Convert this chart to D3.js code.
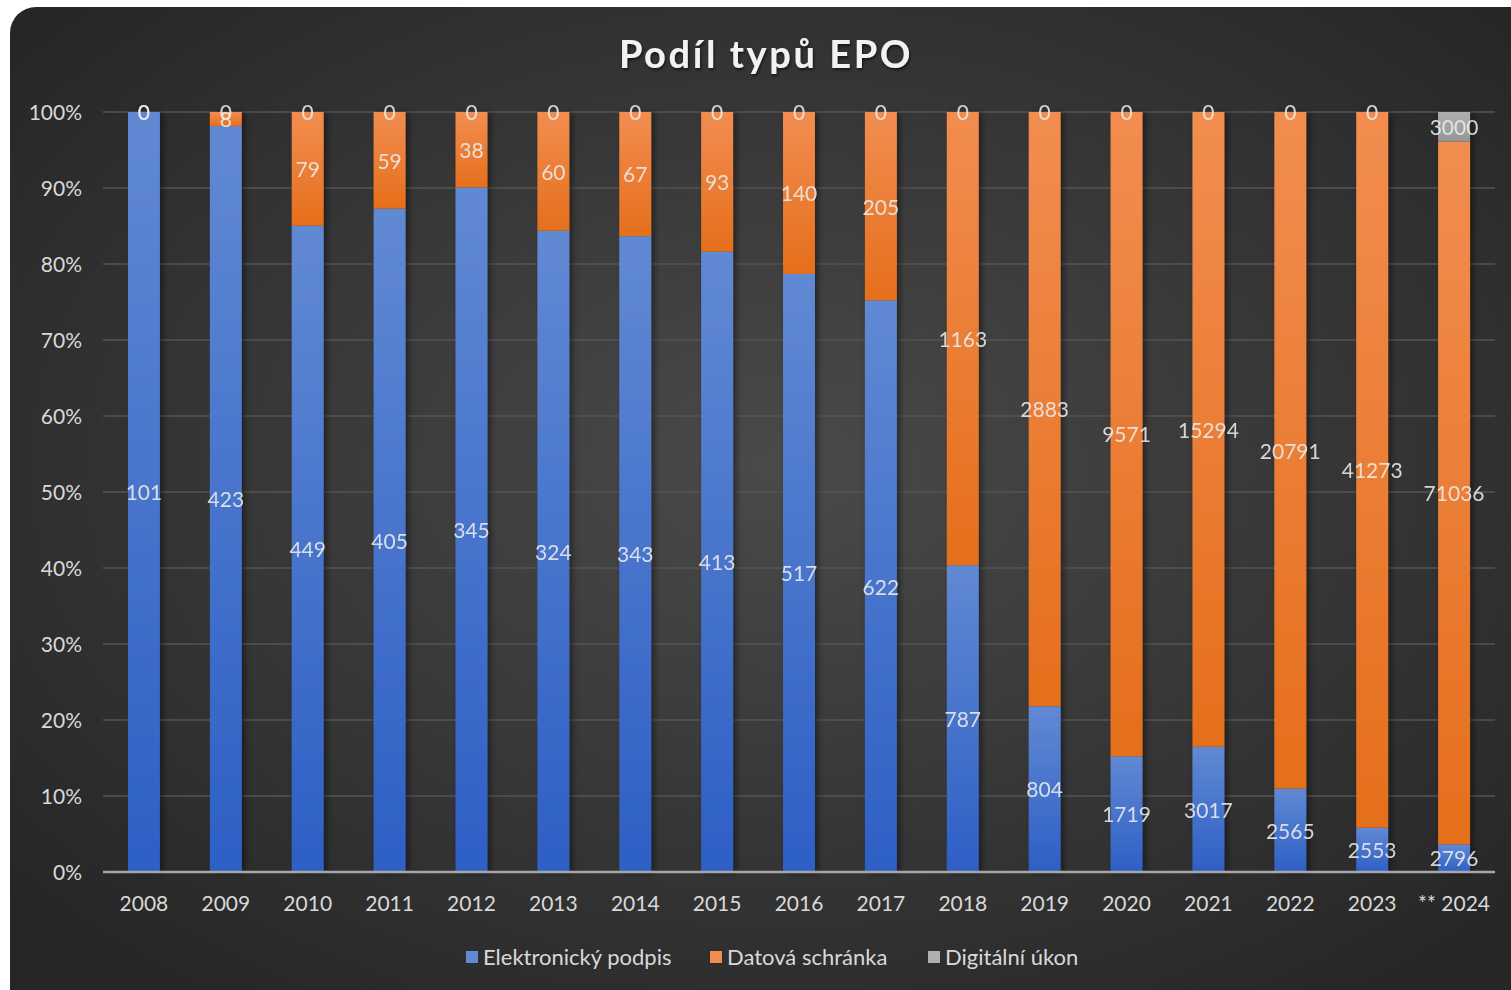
<!DOCTYPE html>
<html lang="cs">
<head>
  <meta charset="UTF-8">
  <title>Podíl typů EPO</title>
  <script src="https://cdn.jsdelivr.net/npm/d3@7"></script>
  <style>
    body { margin: 0; background: #fff; }
    text { font-family: Lato, "Open Sans", sans-serif; }
    .tick text { fill: #d9d9d9; font-size: 21px; }
    .label { fill: #ececec; font-size: 21px; opacity: 0.88; }
    .title { fill: #f2f2f2; font-size: 38px; font-weight: bold; letter-spacing: 2.6px; }
    .legend text { fill: #d9d9d9; font-size: 22px; }
  </style>
</head>
<body>
  <svg width="1511" height="990"></svg>
  <script>
    // data
    const years = ['2008', '2009', '2010', '2011', '2012', '2013', '2014', '2015', '2016',
      '2017', '2018', '2019', '2020', '2021', '2022', '2023', '** 2024'];
    const podpis = [101, 423, 449, 405, 345, 324, 343, 413, 517, 622, 787, 804, 1719, 3017, 2565, 2553, 2796];
    const schranka = [0, 8, 79, 59, 38, 60, 67, 93, 140, 205, 1163, 2883, 9571, 15294, 20791, 41273, 71036];
    const ukon = [0, 0, 0, 0, 0, 0, 0, 0, 0, 0, 0, 0, 0, 0, 0, 0, 3000];
    const seriesNames = ['Elektronický podpis', 'Datová schránka', 'Digitální úkon'];
    const yTicks = [0, 0.1, 0.2, 0.3, 0.4, 0.5, 0.6, 0.7, 0.8, 0.9, 1];

    const svg = d3.select('svg');
    const defs = svg.append('defs');

    const bg = defs.append('radialGradient').attr('id', 'bg')
      .attr('cx', '50%').attr('cy', '45%').attr('r', '65%');
    bg.append('stop').attr('offset', '0%').attr('stop-color', '#4a4a4a');
    bg.append('stop').attr('offset', '100%').attr('stop-color', '#262626');

    const cols = [['#6189d3', '#2d5fc5'], ['#f28d50', '#e56f1c'], ['#b0b0b0', '#959595']];
    cols.forEach((c, i) => {
      const g = defs.append('linearGradient').attr('id', 'g' + i)
        .attr('x1', 0).attr('y1', 0).attr('x2', 0).attr('y2', 1);
      g.append('stop').attr('offset', '0%').attr('stop-color', c[0]);
      g.append('stop').attr('offset', '100%').attr('stop-color', c[1]);
    });

    const shadow = defs.append('filter').attr('id', 'sh')
      .attr('x', '-30%').attr('y', '-5%').attr('width', '160%').attr('height', '110%');
    shadow.append('feDropShadow').attr('dx', 3).attr('dy', 1)
      .attr('stdDeviation', 3).attr('flood-color', '#000').attr('flood-opacity', 0.45);

    const tshadow = defs.append('filter').attr('id', 'tsh');
    tshadow.append('feDropShadow').attr('dx', 1).attr('dy', 2)
      .attr('stdDeviation', 1.5).attr('flood-color', '#000').attr('flood-opacity', 0.6);

    svg.append('rect')
      .attr('x', 10).attr('y', 7)
      .attr('width', 1540).attr('height', 1020)
      .attr('rx', 26)
      .attr('fill', 'url(#bg)');

    svg.append('text')
      .attr('class', 'title')
      .attr('x', 766).attr('y', 68)
      .attr('text-anchor', 'middle')
      .attr('filter', 'url(#tsh)')
      .text('Podíl typů EPO');

    const x = d3.scaleBand()
      .domain(years)
      .range([103, 1495])
      .paddingInner(0.61)
      .paddingOuter(0.305);

    const y = d3.scaleLinear()
      .domain([0, 1])
      .range([872, 112]);

    // gridlines
    svg.append('g')
      .selectAll('line')
      .data(yTicks.slice(1))
      .join('line')
      .attr('x1', 103).attr('x2', 1495)
      .attr('y1', d => y(d)).attr('y2', d => y(d))
      .attr('stroke', '#555').attr('stroke-width', 1.3);

    const rows = years.map((yr, i) => {
      const vals = [podpis[i], schranka[i], ukon[i]];
      const total = d3.sum(vals);
      let acc = 0;
      return vals.map((v, k) => {
        const s = { year: yr, k, v, y0: acc / total, y1: (acc + v) / total };
        acc += v;
        return s;
      });
    });
    const segs = rows.flat();

    svg.append('g')
      .attr('filter', 'url(#sh)')
      .selectAll('rect')
      .data(segs.filter(d => d.v > 0))
      .join('rect')
      .attr('x', d => x(d.year))
      .attr('width', x.bandwidth())
      .attr('y', d => y(d.y1))
      .attr('height', d => y(d.y0) - y(d.y1))
      .attr('fill', d => `url(#g${d.k})`);

    // axes
    const yAxis = svg.append('g')
      .attr('transform', 'translate(82,0)')
      .call(d3.axisLeft(y).tickValues(yTicks).tickFormat(d3.format('.0%')).tickSize(0).tickPadding(0));
    yAxis.select('.domain').remove();
    yAxis.selectAll('text').attr('dy', '0.35em');

    const xAxis = svg.append('g')
      .attr('transform', 'translate(0,872)')
      .call(d3.axisBottom(x).tickSize(0).tickPadding(24));
    xAxis.select('.domain')
      .attr('d', 'M103,0H1495')
      .attr('stroke', '#a6a6a6').attr('stroke-width', 2.5);

    // data labels
    svg.append('g')
      .selectAll('text')
      .data(segs)
      .join('text')
      .attr('class', 'label')
      .attr('x', d => x(d.year) + x.bandwidth() / 2)
      .attr('y', d => y((d.y0 + d.y1) / 2) + 3)
      .attr('text-anchor', 'middle')
      .attr('dominant-baseline', 'middle')
      .text(d => d.v);

    // legend
    const legendX = [466, 710, 928];
    const legend = svg.append('g').attr('class', 'legend')
      .selectAll('g')
      .data(seriesNames)
      .join('g')
      .attr('transform', (d, i) => `translate(${legendX[i]},957)`);
    legend.append('rect')
      .attr('x', 0).attr('y', -6).attr('width', 12).attr('height', 12)
      .attr('fill', (d, i) => cols[i][0]);
    legend.append('text')
      .attr('x', 17).attr('dy', '0.35em')
      .text(d => d);
  </script>
</body>
</html>
